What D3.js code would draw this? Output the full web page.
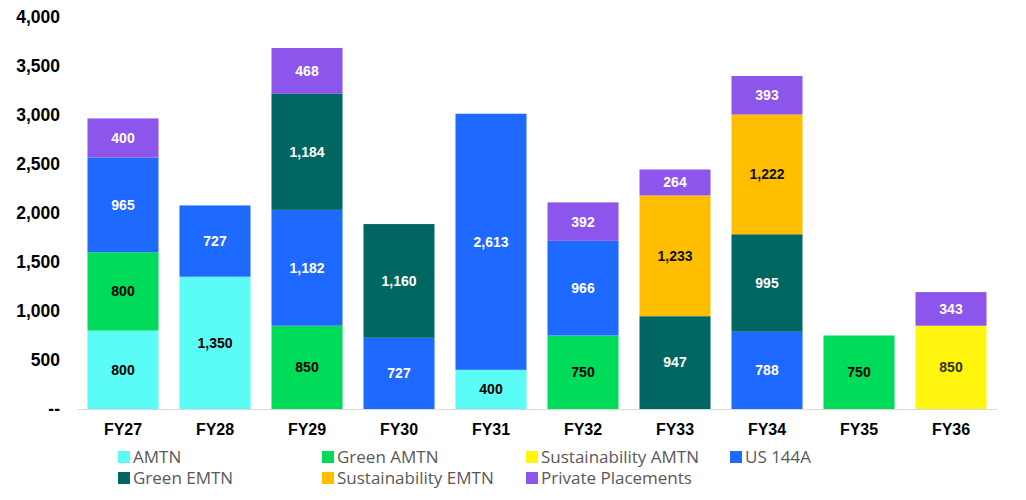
<!DOCTYPE html>
<html>
<head>
<meta charset="utf-8">
<style>
	body { margin: 0; background: #fff; }
	svg { display: block; }
</style>
</head>
<body>
<div id="chart"></div>

<script src="https://d3js.org/d3.v7.min.js"></script>
<script>

var years = ["FY27", "FY28", "FY29", "FY30", "FY31", "FY32", "FY33", "FY34", "FY35", "FY36"];

var seriesNames = ["AMTN", "Green AMTN", "Sustainability AMTN", "US 144A", "Green EMTN", "Sustainability EMTN", "Private Placements"];

// one array per series, same order as years
var amtn       = [800, 1350, 0,    0,    400,  0,   0,    0,    0,   0];
var greenAmtn  = [800, 0,    850,  0,    0,    750, 0,    0,    750, 0];
var sustAmtn   = [0,   0,    0,    0,    0,    0,   0,    0,    0,   850];
var us144a     = [965, 727,  1182, 727,  2613, 966, 0,    788,  0,   0];
var greenEmtn  = [0,   0,    1184, 1160, 0,    0,   947,  995,  0,   0];
var sustEmtn   = [0,   0,    0,    0,    0,    0,   1233, 1222, 0,   0];
var privPlace  = [400, 0,    468,  0,    0,    392, 264,  393,  0,   343];

var yTicks = [0, 500, 1000, 1500, 2000, 2500, 3000, 3500, 4000];

var colors = ["#5cfcf6", "#00dc5a", "#fff50f", "#1e69ff", "#006661", "#ffbe00", "#8c55eb"];
var labelColors = ["#000", "#000", "#333300", "#fff", "#fff", "#111", "#fff"];

var allSeries = [amtn, greenAmtn, sustAmtn, us144a, greenEmtn, sustEmtn, privPlace];

// build rows for d3.stack
var rows = years.map(function(y, i) {
	var r = { year: y };
	seriesNames.forEach(function(s, j) { r[s] = allSeries[j][i]; });
	return r;
});

var width = 1026, height = 500;

var svg = d3.select("#chart").append("svg")
	.attr("width", width)
	.attr("height", height);

var x = d3.scaleBand()
	.domain(years)
	.range([77, 997])
	.paddingInner(0.228)
	.paddingOuter(0.114);

var y = d3.scaleLinear()
	.domain([0, 4000])
	.range([409, 17]);

var stack = d3.stack().keys(seriesNames)(rows);

var fmt = d3.format(",");

// y axis labels
svg.append("g")
	.selectAll("text")
	.data(yTicks)
	.enter().append("text")
		.attr("x", 60)
		.attr("y", d => y(d))
		.attr("dy", "0.35em")
		.attr("text-anchor", "end")
		.style("font-family", "Liberation Sans, Arial, sans-serif")
		.style("font-weight", "bold")
		.style("font-size", "17.5px")
		.attr("fill", "#000")
		.text(d => d === 0 ? "--" : fmt(d));

// bars
var layers = svg.append("g").selectAll("g")
	.data(stack)
	.enter().append("g")
		.attr("fill", (d, i) => colors[i]);

layers.selectAll("rect")
	.data(d => d.filter(p => p[1] - p[0] > 0))
	.enter().append("rect")
		.attr("x", d => x(d.data.year))
		.attr("width", x.bandwidth())
		.attr("y", d => y(d[1]))
		.attr("height", d => y(d[0]) - y(d[1]));

// segment labels
stack.forEach(function(layer, i) {
	svg.append("g").selectAll("text")
		.data(layer.filter(p => p[1] - p[0] > 0))
		.enter().append("text")
			.attr("x", d => x(d.data.year) + x.bandwidth() / 2)
			.attr("y", d => (y(d[0]) + y(d[1])) / 2)
			.attr("dy", "0.35em")
			.attr("text-anchor", "middle")
			.style("font-family", "Liberation Sans, Arial, sans-serif")
			.style("font-weight", "bold")
			.style("font-size", "14px")
			.attr("fill", labelColors[i])
			.text(d => fmt(d[1] - d[0]));
});

// baseline
svg.append("line")
	.attr("x1", 77).attr("x2", 997)
	.attr("y1", y(0) + 0.5).attr("y2", y(0) + 0.5)
	.attr("stroke", "#d9d9d9")
	.attr("stroke-width", 1);

// x labels
svg.append("g").selectAll("text")
	.data(years)
	.enter().append("text")
		.attr("x", d => x(d) + x.bandwidth() / 2)
		.attr("y", 429)
		.attr("dy", "0.35em")
		.attr("text-anchor", "middle")
		.style("font-family", "Liberation Sans, Arial, sans-serif")
		.style("font-weight", "bold")
		.style("font-size", "16px")
		.attr("fill", "#000")
		.text(d => d);

// legend, 4 columns
var legend = svg.append("g").selectAll("g")
	.data(seriesNames)
	.enter().append("g")
		.attr("transform", (d, i) => "translate(" + (118 + (i % 4) * 204) + "," + (457 + Math.floor(i / 4) * 21) + ")");

legend.append("rect")
	.attr("x", 0).attr("y", -6)
	.attr("width", 12).attr("height", 12)
	.attr("fill", (d, i) => colors[i]);

legend.append("text")
	.attr("x", 15)
	.attr("dy", "0.35em")
	.style("font-family", "Open Sans, sans-serif")
	.style("font-size", "17px")
	.attr("fill", "#595959")
	.text(d => d);

</script>
</body>
</html>
